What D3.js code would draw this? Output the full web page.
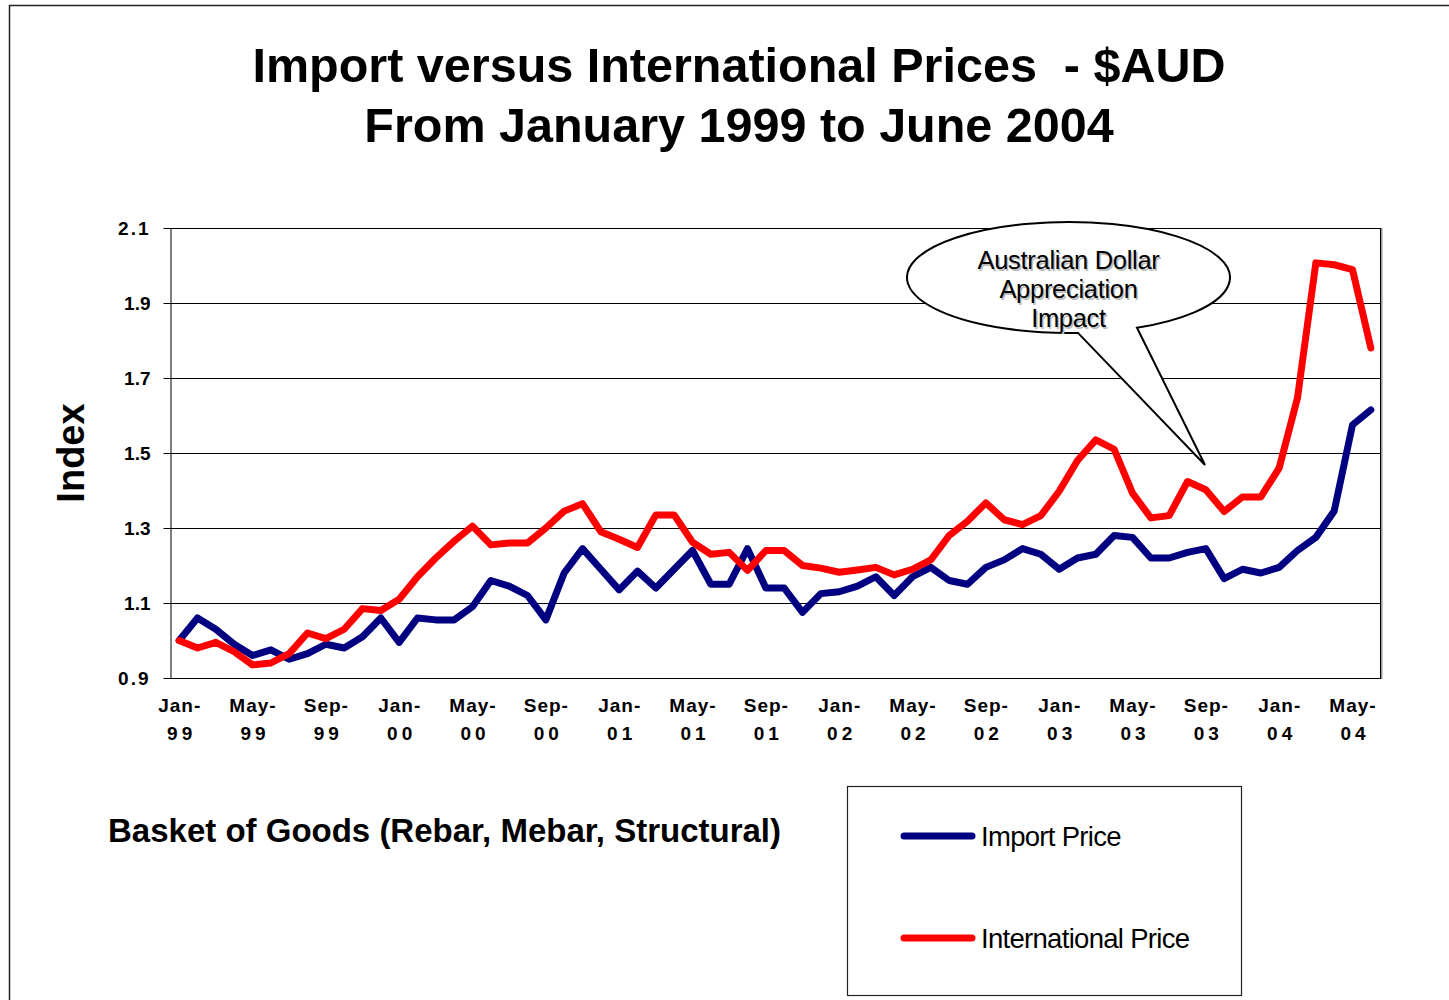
<!DOCTYPE html>
<html>
<head>
<meta charset="utf-8">
<script src="https://cdn.jsdelivr.net/npm/d3@7"></script>
<style>
  body { margin: 0; background: #fff; }
  text { font-family: "Liberation Sans", Arial, sans-serif; white-space: pre; }
</style>
</head>
<body>
<script>
// months Jan-99 .. Jun-04
var months = [
  'Jan-99','Feb-99','Mar-99','Apr-99','May-99','Jun-99','Jul-99','Aug-99','Sep-99','Oct-99','Nov-99','Dec-99',
  'Jan-00','Feb-00','Mar-00','Apr-00','May-00','Jun-00','Jul-00','Aug-00','Sep-00','Oct-00','Nov-00','Dec-00',
  'Jan-01','Feb-01','Mar-01','Apr-01','May-01','Jun-01','Jul-01','Aug-01','Sep-01','Oct-01','Nov-01','Dec-01',
  'Jan-02','Feb-02','Mar-02','Apr-02','May-02','Jun-02','Jul-02','Aug-02','Sep-02','Oct-02','Nov-02','Dec-02',
  'Jan-03','Feb-03','Mar-03','Apr-03','May-03','Jun-03','Jul-03','Aug-03','Sep-03','Oct-03','Nov-03','Dec-03',
  'Jan-04','Feb-04','Mar-04','Apr-04','May-04','Jun-04'
];

// Import Price (blue)
var importPrice = [
  1.00, 1.06, 1.03, 0.99, 0.96, 0.975, 0.95, 0.965, 0.99, 0.98, 1.01, 1.06,
  0.995, 1.06, 1.055, 1.055, 1.09, 1.16, 1.145, 1.12, 1.055, 1.18, 1.245, 1.19,
  1.135, 1.185, 1.14, 1.19, 1.24, 1.15, 1.15, 1.245, 1.14, 1.14, 1.075, 1.125,
  1.13, 1.145, 1.17, 1.12, 1.17, 1.195, 1.16, 1.15, 1.195, 1.215, 1.245, 1.23,
  1.19, 1.22, 1.23, 1.28, 1.275, 1.22, 1.22, 1.235, 1.245, 1.165, 1.19, 1.18,
  1.195, 1.24, 1.275, 1.345, 1.575, 1.615
];

// International Price (red)
var intlPrice = [
  1.00, 0.98, 0.995, 0.97, 0.935, 0.94, 0.965, 1.02, 1.005, 1.03, 1.085, 1.08,
  1.11, 1.17, 1.22, 1.265, 1.305, 1.255, 1.26, 1.26, 1.30, 1.345, 1.365, 1.29,
  1.27, 1.248, 1.335, 1.335, 1.262, 1.23, 1.235, 1.187, 1.24, 1.24, 1.20, 1.193,
  1.182, 1.188, 1.195, 1.175, 1.19, 1.215, 1.28, 1.318, 1.367, 1.322, 1.309, 1.333,
  1.398, 1.48, 1.535, 1.51, 1.393, 1.327, 1.333, 1.424, 1.402, 1.344, 1.383, 1.383,
  1.46, 1.647, 2.007, 2.002, 1.989, 1.78
];

var yTicks = [0.9, 1.1, 1.3, 1.5, 1.7, 1.9, 2.1];
var xTicks = months.filter(function(m) { return /^(Jan|May|Sep)/.test(m); });

var series = [
  { name: 'Import Price', values: importPrice, color: '#000080' },
  { name: 'International Price', values: intlPrice, color: '#ff0000' }
];

var width = 1449, height = 1000;
var plot = { left: 170, right: 1380, top: 228, bottom: 678 };

var svg = d3.select('body').append('svg')
  .attr('width', width)
  .attr('height', height);

// outer frame (cut off at right/bottom like the original)
svg.append('path')
  .attr('d', 'M9.5,' + height + ' V5.5 H' + width)
  .attr('fill', 'none')
  .attr('stroke', '#222')
  .attr('stroke-width', 1.5);

// title
var title = svg.append('text')
  .attr('text-anchor', 'middle')
  .attr('font-weight', 'bold')
  .attr('font-size', 48.5);
title.append('tspan').attr('x', 739).attr('y', 82).text('Import versus International Prices  - $AUD');
title.append('tspan').attr('x', 739).attr('y', 142).text('From January 1999 to June 2004');

var x = d3.scalePoint()
  .domain(months)
  .range([plot.left, plot.right])
  .padding(0.5);

var y = d3.scaleLinear()
  .domain([0.9, 2.1])
  .range([plot.bottom, plot.top]);

// gridlines
svg.append('g')
  .selectAll('line')
  .data(yTicks.slice(1))
  .enter().append('line')
  .attr('x1', plot.left).attr('x2', plot.right)
  .attr('y1', function(d) { return Math.round(y(d)) + 0.5; })
  .attr('y2', function(d) { return Math.round(y(d)) + 0.5; })
  .attr('stroke', '#000')
  .attr('stroke-width', 1);

// right border of plot area (with a soft grey shadow)
svg.append('line')
  .attr('x1', plot.right + 1.5).attr('x2', plot.right + 1.5)
  .attr('y1', plot.top).attr('y2', plot.bottom + 1)
  .attr('stroke', '#999').attr('stroke-width', 2);
svg.append('line')
  .attr('x1', plot.right + 0.5).attr('x2', plot.right + 0.5)
  .attr('y1', plot.top).attr('y2', plot.bottom)
  .attr('stroke', '#000').attr('stroke-width', 1);

// y axis
var yAxis = svg.append('g')
  .attr('transform', 'translate(' + (plot.left + 0.5) + ',0)')
  .call(d3.axisLeft(y)
    .tickValues(yTicks)
    .tickSize(7)
    .tickSizeOuter(0)
    .tickPadding(13)
    .tickFormat(d3.format('.1f')));
yAxis.select('.domain').attr('stroke', '#000');
yAxis.selectAll('line').attr('stroke', '#000');
yAxis.selectAll('text')
  .attr('font-family', '"Liberation Sans", Arial, sans-serif')
  .attr('font-size', 19)
  .attr('font-weight', 'bold')
  .attr('fill', '#000')
  .attr('letter-spacing', function(d) { return (d === 0.9 || d === 2.1) ? 2 : 0; });

// x axis
var xAxis = svg.append('g')
  .attr('transform', 'translate(0,' + (plot.bottom + 0.5) + ')')
  .call(d3.axisBottom(x)
    .tickValues(xTicks)
    .tickSize(0)
    .tickSizeOuter(0)
    .tickFormat(function() { return ''; }));
xAxis.select('.domain').attr('stroke', '#000').attr('d', 'M' + plot.left + ',0H' + (plot.right + 1));
xAxis.selectAll('.tick text').remove();
xAxis.selectAll('.tick').each(function(d) {
  var parts = d.split('-');
  var t = d3.select(this).append('text')
    .attr('text-anchor', 'middle')
    .attr('font-family', '"Liberation Sans", Arial, sans-serif')
    .attr('font-size', 19)
    .attr('font-weight', 'bold')
    .attr('fill', '#000');
  t.append('tspan').attr('x', 0).attr('y', 33).attr('letter-spacing', 1).text(parts[0] + '-');
  t.append('tspan').attr('x', 2).attr('y', 61).attr('letter-spacing', 4).text(parts[1]);
});

// series lines
var line = d3.line()
  .x(function(d, i) { return x(months[i]); })
  .y(function(d) { return y(d); });

svg.append('g')
  .selectAll('path')
  .data(series)
  .enter().append('path')
  .attr('d', function(s) { return line(s.values); })
  .attr('fill', 'none')
  .attr('stroke', function(s) { return s.color; })
  .attr('stroke-width', 7)
  .attr('stroke-linejoin', 'round')
  .attr('stroke-linecap', 'round');

// y axis title
svg.append('text')
  .attr('transform', 'translate(84,453) rotate(-90)')
  .attr('text-anchor', 'middle')
  .attr('font-size', 38)
  .attr('font-weight', 'bold')
  .text('Index');

// basket caption
svg.append('text')
  .attr('x', 108).attr('y', 842)
  .attr('font-size', 33)
  .attr('font-weight', 'bold')
  .text('Basket of Goods (Rebar, Mebar, Structural)');

// callout bubble
var cx = 1068.5, cy = 277.5, rx = 161.5, ry = 55.5;
function onEllipse(px) {
  var dx = px - cx;
  return [px, cy + ry * Math.sqrt(1 - (dx / rx) * (dx / rx))];
}
var pA = onEllipse(1078), pB = onEllipse(1137), tip = [1205, 465];
svg.append('path')
  .attr('d', 'M' + pA + ' A' + rx + ',' + ry + ' 0 1 1 ' + pB + ' L' + tip + ' Z')
  .attr('fill', '#fff')
  .attr('stroke', '#000')
  .attr('stroke-width', 2);

var callout = ['Australian Dollar', 'Appreciation', 'Impact'];
var cg = svg.append('g');
[['#bbb', 1.5], ['#000', 0]].forEach(function(style) {
  cg.append('g').selectAll('text')
    .data(callout)
    .enter().append('text')
    .attr('x', cx + style[1])
    .attr('y', function(d, i) { return 269 + i * 29 + style[1]; })
    .attr('text-anchor', 'middle')
    .attr('font-size', 25.5)
    .attr('fill', style[0])
    .attr('letter-spacing', -0.3)
    .text(function(d) { return d; });
});

// legend
var legend = svg.append('g');
legend.append('rect')
  .attr('x', 847.5).attr('y', 786.5)
  .attr('width', 394).attr('height', 209)
  .attr('fill', '#fff')
  .attr('stroke', '#222')
  .attr('stroke-width', 1.2);
var items = legend.selectAll('g.item')
  .data(series)
  .enter().append('g')
  .attr('class', 'item')
  .attr('transform', function(d, i) { return 'translate(0,' + (836 + i * 102) + ')'; });
items.append('line')
  .attr('x1', 904).attr('x2', 972)
  .attr('stroke', function(d) { return d.color; })
  .attr('stroke-width', 7)
  .attr('stroke-linecap', 'round');
items.append('text')
  .attr('x', 981).attr('y', 10)
  .attr('font-size', 27.5)
  .attr('letter-spacing', -0.7)
  .text(function(d) { return d.name; });
</script>
</body>
</html>
